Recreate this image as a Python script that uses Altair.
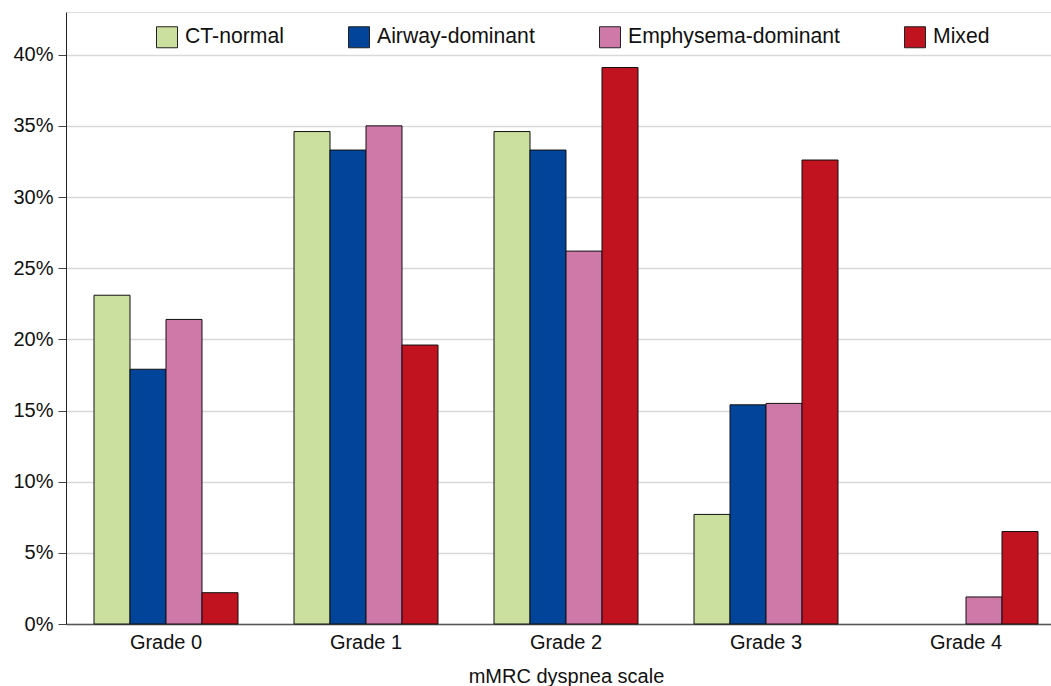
import altair as alt
import pandas as pd

grades = ["Grade 0", "Grade 1", "Grade 2", "Grade 3", "Grade 4"]
types = ["CT-normal", "Airway-dominant", "Emphysema-dominant", "Mixed"]
colors = ["#cbdf9f", "#02449a", "#cf79a9", "#c0121f"]

ct_normal = [23.1, 34.6, 34.6, 7.7, 0.0]
airway = [17.9, 33.3, 33.3, 15.4, 0.0]
emphysema = [21.4, 35.0, 26.2, 15.5, 1.9]
mixed = [2.2, 19.6, 39.1, 32.6, 6.5]

series = [ct_normal, airway, emphysema, mixed]
rows = []
for t, vals in zip(types, series):
    for g, v in zip(grades, vals):
        rows.append({"grade": g, "type": t, "value": v / 100.0})
df = pd.DataFrame(rows)

font = "Liberation Sans"

chart = alt.Chart(df).transform_filter(
    alt.datum.value > 0
).mark_bar(stroke="#111111", strokeWidth=1).encode(
    x=alt.X("grade:N", sort=grades,
            scale=alt.Scale(domain=grades, range=[0, 1000], paddingInner=0.28, paddingOuter=0.14),
            axis=alt.Axis(title="mMRC dyspnea scale", labelAngle=0, ticks=False,
                          labelPadding=8, titlePadding=14, domainColor="#555555",
                          domainWidth=1.5,
                          labelFontSize=20, titleFontSize=20, labelColor="#111111",
                          titleColor="#111111", titleFontWeight="normal", grid=False)),
    xOffset=alt.XOffset("type:N", sort=types, scale=alt.Scale(domain=types)),
    y=alt.Y("value:Q", scale=alt.Scale(domain=[0, 0.43], nice=False),
            axis=alt.Axis(title=None, format=".0%", values=[0, 0.05, 0.1, 0.15, 0.2, 0.25, 0.3, 0.35, 0.4],
                          tickSize=8, tickColor="#444444", domainColor="#222222",
                          labelFontSize=20, labelColor="#111111", labelPadding=5,
                          gridColor="#d9d9d9", gridWidth=1.5)),
    color=alt.Color("type:N", sort=types,
                    scale=alt.Scale(domain=types, range=colors),
                    legend=alt.Legend(title=None, orient="none", legendX=90, legendY=14,
                                      direction="horizontal", columns=4, columnPadding=62,
                                      symbolType="square", symbolSize=441,
                                      symbolStrokeColor="#222222", symbolStrokeWidth=1,
                                      symbolOpacity=1, labelFontSize=21.2, labelOffset=7,
                                      labelLimit=400,
                                      labelColor="#111111", labelFont=font)),
).properties(
    width=985, height=612,
    autosize=alt.AutoSizeParams(type="none"),
    padding={"left": 66, "top": 12, "right": 0, "bottom": 62},
).configure_view(
    stroke="#444444", strokeWidth=1.5
).configure_axis(
    labelFont=font, titleFont=font
).configure(background="white")

chart.save("out.html", embed_options={"renderer": "svg", "actions": False})
